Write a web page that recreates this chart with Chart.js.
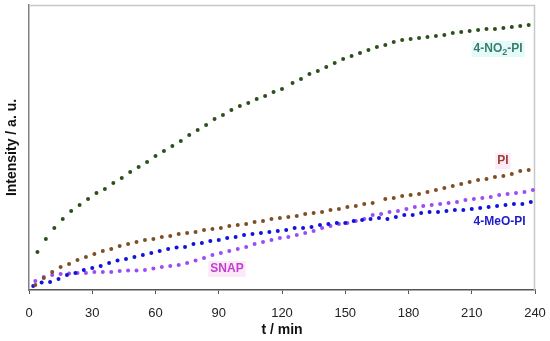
<!DOCTYPE html>
<html>
<head>
<meta charset="utf-8">
<script src="https://cdn.jsdelivr.net/npm/chart.js@4/dist/chart.umd.min.js"></script>
<style>
  html, body { margin: 0; padding: 0; background: #fff; }
  #wrap { width: 550px; height: 341px; }
</style>
</head>
<body>
<div id="wrap"><canvas id="kinChart" width="550" height="341"></canvas></div>
<script>
// x axis ticks (min)
const xTicks = [0, 30, 60, 90, 120, 150, 180, 210, 240];

// 4-NO2-PI
const no2Times = [4, 8, 12, 16, 20, 24, 28, 32, 36, 40, 44, 48, 52, 56, 60, 64, 68, 72, 76, 80,
  84, 88, 92, 96, 100, 104, 108, 112, 116, 120, 125, 129, 133, 137, 141, 145, 149, 153, 157, 161,
  165, 169, 173, 177, 181, 185, 189, 193, 197, 201, 205, 209, 213, 217, 221, 225, 229, 233, 237];
const no2Values = [38, 51, 62, 71, 79, 85, 91, 97, 101, 107, 112, 118, 123, 128, 134, 139, 144, 149, 155, 160,
  165, 171, 175, 180, 184, 187, 191, 194, 198, 201, 207, 211, 216, 219, 223, 227, 231, 234, 237, 240,
  243, 245, 248, 250, 251, 252, 253, 254, 255, 257, 258, 259, 260, 261, 261, 262, 263, 264, 265];

// PI
const piTimes = [3, 7, 11, 15, 19, 23, 27, 31, 35, 39, 43, 47, 51, 55, 59, 63, 67, 71, 75, 79,
  83, 87, 91, 95, 99, 103, 107, 111, 115, 119, 123, 127, 131, 135, 139, 143, 147, 151, 155, 159,
  163, 169, 173, 177, 181, 185, 189, 193, 197, 201, 205, 209, 213, 217, 221, 225, 229, 233, 237];
const piValues = [5, 12, 18, 23, 26, 30, 33, 36, 39, 41, 44, 46, 48, 50, 51, 53, 54, 56, 57, 58,
  60, 61, 62, 64, 65, 66, 68, 69, 71, 72, 73, 74, 76, 77, 78, 80, 81, 83, 84, 86,
  87, 91, 92, 94, 95, 96, 98, 100, 102, 104, 106, 108, 110, 111, 113, 114, 116, 119, 120];

// 4-MeO-PI
const meoTimes = [2, 6, 10, 14, 18, 22, 26, 30, 34, 38, 42, 46, 50, 54, 58, 62, 66, 70, 74, 78,
  82, 86, 90, 94, 98, 102, 106, 110, 114, 118, 122, 126, 130, 134, 138, 142, 146, 150, 154, 158,
  162, 166, 170, 174, 178, 182, 186, 190, 194, 198, 202, 206, 210, 214, 218, 222, 226, 230, 234, 238];
const meoValues = [4, 7.5, 8, 11, 15, 17, 20, 22, 24, 27, 29.5, 31, 33, 35, 37, 39, 41, 42.5, 43, 46,
  47, 49, 50, 52, 53, 55, 56, 57, 58, 59, 60, 62, 62, 63, 65, 66, 67, 67, 69, 70,
  71, 72, 71, 73, 75, 75, 77, 78, 78, 79, 80, 80, 81, 82, 83, 84, 85, 86, 86, 88];

// SNAP
const snapTimes = [3, 7, 11, 15, 19, 23, 27, 31, 35, 39, 43, 47, 51, 55, 59, 63, 67, 71, 75, 79,
  83, 87, 91, 95, 99, 103, 107, 111, 115, 119, 123, 127, 131, 135, 139, 143, 147, 151, 155, 159,
  163, 167, 171, 175, 179, 183, 187, 191, 195, 199, 203, 207, 211, 215, 219, 223, 227, 231, 235, 239];
const snapValues = [9, 13, 15, 16, 16.5, 17, 17, 18, 18, 18, 19, 19.5, 19.5, 20, 21.5, 23, 24, 25, 27, 29.5,
  32, 35, 37, 39, 41, 43, 46, 48, 50, 52, 53, 55, 57, 59, 62, 64, 66, 67, 69, 71,
  75, 76, 78, 79, 81, 83, 84, 85, 86, 87, 88, 90, 91, 92, 93, 95, 96, 97, 98, 100];

const FONT = "'Liberation Sans', Arial, sans-serif";

function toPoints(times, values) {
  return times.map((t, i) => ({ x: t, y: values[i] }));
}

function series(label, times, values, color) {
  return {
    label: label,
    data: toPoints(times, values),
    backgroundColor: color,
    borderColor: color,
    pointRadius: 2,
    pointBorderWidth: 0,
    showLine: false
  };
}

// light frame on top/right + series labels inside the plot
const decorPlugin = {
  id: 'decor',
  beforeDatasetsDraw(chart) {
    const { ctx, chartArea: a } = chart;
    ctx.save();
    ctx.strokeStyle = '#c8c8c8';
    ctx.lineWidth = 1.5;
    ctx.beginPath();
    ctx.moveTo(a.left, a.top + 0.5);
    ctx.lineTo(a.right - 0.5, a.top + 0.5);
    ctx.lineTo(a.right - 0.5, a.bottom);
    ctx.stroke();
    ctx.restore();
  },
  afterDatasetsDraw(chart) {
    const { ctx, scales: { x, y } } = chart;
    const labels = [
      { parts: [['4-NO', 0], ['2', 1], ['-PI', 0]], t: 222.5, v: 241, color: '#3d7b6b', bg: '#e2fbfa' },
      { parts: [['PI', 0]], t: 224.8, v: 129, color: '#9b3f33', bg: '#fdeaf6' },
      { parts: [['4-MeO-PI', 0]], t: 223.2, v: 68, color: '#1d1dc4', bg: null },
      { parts: [['SNAP', 0]], t: 93.9, v: 21, color: '#c03fd2', bg: '#fde8f7' }
    ];
    ctx.save();
    ctx.textBaseline = 'middle';
    labels.forEach(l => {
      const cx = x.getPixelForValue(l.t);
      const cy = y.getPixelForValue(l.v);
      let w = 0;
      l.parts.forEach(p => {
        ctx.font = 'bold ' + (p[1] ? 9 : 12) + 'px ' + FONT;
        w += ctx.measureText(p[0]).width;
      });
      let px = cx - w / 2;
      if (l.bg) {
        ctx.fillStyle = l.bg;
        ctx.fillRect(px - 2, cy - 8, w + 4, 16);
      }
      ctx.fillStyle = l.color;
      l.parts.forEach(p => {
        ctx.font = 'bold ' + (p[1] ? 9 : 12) + 'px ' + FONT;
        ctx.textAlign = 'left';
        ctx.fillText(p[0], px, p[1] ? cy + 4 : cy);
        px += ctx.measureText(p[0]).width;
      });
    });
    ctx.restore();
  }
};

const ctx = document.getElementById('kinChart').getContext('2d');

new Chart(ctx, {
  type: 'scatter',
  data: {
    datasets: [
      series('4-NO2-PI', no2Times, no2Values, '#2b4f1d'),
      series('PI', piTimes, piValues, '#7e4f24'),
      series('4-MeO-PI', meoTimes, meoValues, '#1212dc'),
      series('SNAP', snapTimes, snapValues, '#9b4cf2')
    ]
  },
  options: {
    responsive: false,
    animation: false,
    layout: { padding: { top: 5, right: 15, left: 0, bottom: 0 } },
    plugins: {
      legend: { display: false },
      tooltip: { enabled: false }
    },
    scales: {
      x: {
        type: 'linear',
        min: 0,
        max: 240,
        afterBuildTicks: function (scale) {
          scale.ticks = xTicks.map(v => ({ value: v }));
        },
        afterFit: function (scale) {
          scale.height = 51;
          scale.paddingLeft = 0;
          scale.paddingRight = 0;
        },
        ticks: {
          padding: 12,
          color: '#222',
          font: { family: FONT, size: 13 }
        },
        grid: {
          display: true,
          drawOnChartArea: false,
          drawTicks: true,
          tickLength: 4,
          color: '#555'
        },
        border: { color: '#555', width: 1.5 },
        title: {
          display: true,
          text: 't / min',
          color: '#111',
          padding: { top: 0, bottom: 2 },
          font: { family: FONT, size: 14, weight: 'bold' }
        }
      },
      y: {
        min: 0,
        max: 285,
        afterFit: function (scale) { scale.width = 29; },
        ticks: { display: false },
        grid: { display: false },
        border: { color: '#808080', width: 1.5 },
        title: {
          display: true,
          text: 'Intensity / a. u.',
          color: '#111',
          padding: { top: 4, bottom: 0 },
          font: { family: FONT, size: 14, weight: 'bold' }
        }
      }
    }
  },
  plugins: [decorPlugin]
});
</script>
</body>
</html>
